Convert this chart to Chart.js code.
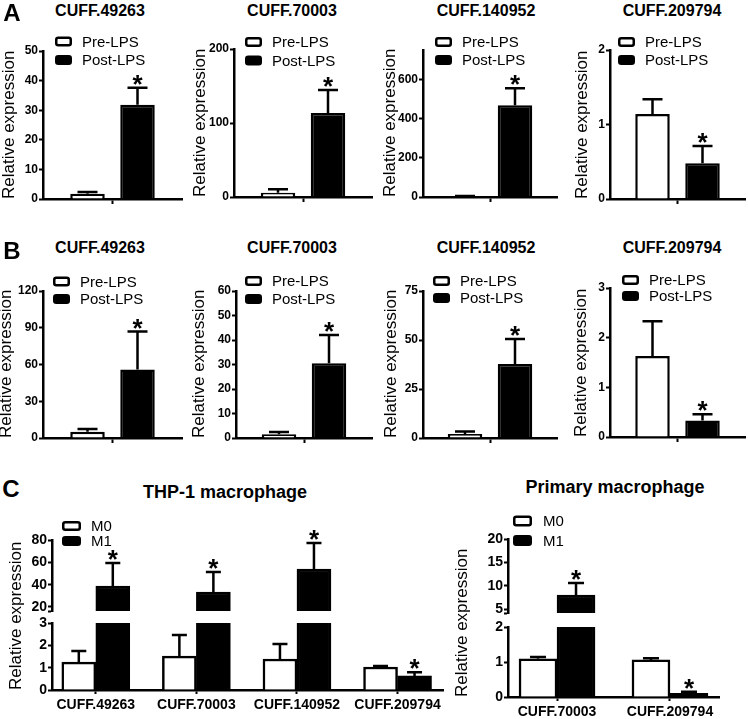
<!DOCTYPE html>
<html><head><meta charset="utf-8">
<script src="https://cdn.jsdelivr.net/npm/chart.js@4.4.1/dist/chart.umd.min.js"></script>
<style>
html,body{margin:0;padding:0;background:#fff;}
#fig{position:relative;width:748px;height:719px;overflow:hidden;background:#fff;font-family:Arial,"Liberation Sans",sans-serif;}
.t{position:absolute;width:300px;text-align:center;white-space:nowrap;font-weight:bold;color:#000;}
canvas{position:absolute;}
</style></head><body><div id="fig"></div>
<script>
// ================= DATA =================
const genesAB = ['CUFF.49263', 'CUFF.70003', 'CUFF.140952', 'CUFF.209794'];
const seriesAB = ['Pre-LPS', 'Post-LPS'];
// Panel A
const aPre = [1.8, 5.8, 3, 1.14];
const aPreErr = [0.6, 4.6, 1.5, 0.2];
const aPost = [31.8, 113.5, 468, 0.48];
const aPostErr = [5.8, 31, 87, 0.23];
const aMax = [50, 200, 750, 2];
const aTicks = [[0, 10, 20, 30, 40, 50], [0, 100, 200], [0, 200, 400, 600], [0, 1, 2]];
// Panel B
const bPre = [5.1, 1.5, 2, 1.63];
const bPreErr = [2.2, 0.9, 1.3, 0.7];
const bPost = [56, 30.5, 37.7, 0.33];
const bPostErr = [31, 11.5, 12.8, 0.13];
const bMax = [120, 60, 75, 3];
const bTicks = [[0, 30, 60, 90, 120], [0, 10, 20, 30, 40, 50, 60], [0, 25, 50, 75], [0, 1, 2, 3]];
const abPreSig = [0, 0, 0, 0];
const abPostSig = [1, 1, 1, 1];
// Panel C
const seriesC = ['M0', 'M1'];
const thpTitle = 'THP-1 macrophage';
const thpGenes = ['CUFF.49263', 'CUFF.70003', 'CUFF.140952', 'CUFF.209794'];
const thpM0 = [1.25, 1.52, 1.39, 1.03];
const thpM0Err = [0.5, 0.94, 0.67, 0.04];
const thpM1 = [38.8, 33.4, 54, 0.63];
const thpM1Err = [20.6, 17.9, 23.3, 0.17];
const thpM0Sig = [0, 0, 0, 0];
const thpM1Sig = [1, 1, 1, 1];
const thpLowTicks = [0, 1, 2, 3];
const thpHighTicks = [20, 40, 60, 80];
const thpBreakMin = 16.4;
const priTitle = 'Primary macrophage';
const priGenes = ['CUFF.70003', 'CUFF.209794'];
const priM0 = [1.09, 1.06];
const priM0Err = [0.05, 0.05];
const priM1 = [8.0, 0.105];
const priM1Err = [2.6, 0.045];
const priM0Sig = [0, 0];
const priM1Sig = [1, 1];
const priLowTicks = [0, 1, 2];
const priHighTicks = [5, 10, 15, 20];
const priBreakMin = 4.15;
const yTitleText = 'Relative expression';

// ================= STYLE / LAYOUT =================
const FONT = 'Arial, "Liberation Sans", sans-serif';
Chart.defaults.font.family = FONT;
Chart.defaults.color = '#000';
const TITLE_FS = 17, STAR_FS = 26;
const fig = document.getElementById('fig');

const errBars = {
  id: 'errBars',
  afterDatasetsDraw(chart, args, o) {
    const {ctx, chartArea: ca} = chart;
    const ys = chart.scales.y;
    const cap = o.cap || 20;
    chart.data.datasets.forEach((ds, di) => {
      const meta = chart.getDatasetMeta(di);
      meta.data.forEach((bar, i) => {
        const v = ds.data[i], e = ds.err ? ds.err[i] : 0;
        const yv = ys.getPixelForValue(v), yt = ys.getPixelForValue(v + e);
        ctx.save();
        ctx.beginPath(); ctx.rect(ca.left, ca.top, ca.right - ca.left, ca.bottom - ca.top); ctx.clip();
        ctx.strokeStyle = '#000'; ctx.lineWidth = 2.5;
        ctx.beginPath();
        ctx.moveTo(bar.x, yv); ctx.lineTo(bar.x, yt);
        ctx.moveTo(bar.x - cap / 2, yt); ctx.lineTo(bar.x + cap / 2, yt);
        ctx.stroke();
        ctx.restore();
        if (ds.sig && ds.sig[i] && yt >= ca.top - 1 && yt <= ca.bottom) {
          ctx.save();
          ctx.fillStyle = '#000';
          ctx.font = 'bold ' + STAR_FS + 'px ' + FONT;
          ctx.textAlign = 'center'; ctx.textBaseline = 'alphabetic';
          ctx.fillText('*', bar.x, yt - 5 + 0.39 * STAR_FS);
          ctx.restore();
        }
      });
    });
  }
};
const boxLegend = {
  id: 'boxLegend',
  afterDraw(chart, args, o) {
    if (!o || !o.show) return;
    const {ctx, chartArea: ca} = chart;
    ctx.save();
    chart.data.datasets.forEach((ds, i) => {
      const x = ca.left + o.dx, cy = ca.top + o.dy + i * o.gap;
      const w = o.w, h = o.h;
      ctx.fillStyle = ds.backgroundColor; ctx.strokeStyle = '#000'; ctx.lineWidth = 2.5;
      ctx.beginPath();
      if (ctx.roundRect) ctx.roundRect(x + 1.25, cy - h / 2 + 1.25, w - 2.5, h - 2.5, 2);
      else ctx.rect(x + 1.25, cy - h / 2 + 1.25, w - 2.5, h - 2.5);
      ctx.fill(); ctx.stroke();
      ctx.fillStyle = '#000'; ctx.font = '15px ' + FONT;
      ctx.textAlign = 'left'; ctx.textBaseline = 'middle';
      ctx.fillText(ds.label, x + o.tx, cy + 1);
    });
    ctx.restore();
  }
};
Chart.register(errBars, boxLegend);

function makeChart(s) {
  const padBottom = 10, padRight = 6;
  const cLeft = Math.floor(s.labelX - TITLE_FS / 2);
  const yW = s.ax - cLeft;
  const plotW = s.right - s.ax, plotH = s.bottom - s.top;
  const W = yW + plotW + padRight, H = s.padTop + plotH + s.xH + padBottom;
  const cv = document.createElement('canvas');
  cv.width = W; cv.height = H;
  Object.assign(cv.style, {left: cLeft + 'px', top: (s.top - s.padTop) + 'px', width: W + 'px', height: H + 'px'});
  fig.appendChild(cv);
  const allTicks = s.yMin ? [s.yMin].concat(s.yTicks) : s.yTicks;
  const datasets = s.series.map((name, k) => Object.assign({
    label: name, data: s.values[k], err: s.errs[k], sig: s.sigs[k],
    backgroundColor: k === 0 ? '#fff' : '#000', borderColor: '#000', borderWidth: 2.5,
    borderSkipped: 'start', clip: 0
  }, s.barThickness ? {barThickness: s.barThickness} : {categoryPercentage: 100 / plotW, barPercentage: 0.69}));
  const grid = {drawOnChartArea: false, drawTicks: true, tickLength: 4, tickWidth: 2, color: '#000'};
  const border = {display: true, color: '#000', width: 2.5};
  let xScale;
  if (s.cats) {
    xScale = {
      type: 'linear', min: s.xMin, max: s.xMax, offset: false, display: s.showX,
      afterBuildTicks: sc => { sc.ticks = s.cats.map((_, i) => ({value: i})); },
      afterFit: sc => { sc.height = s.xH; },
      ticks: {autoSkip: false, maxRotation: 0, minRotation: 0, padding: 3, color: '#000',
        font: {size: 14, weight: 'bold'}, callback: v => (s.cats[v] !== undefined ? s.cats[v] : '')},
      grid: Object.assign({}, grid, {offset: false}), border
    };
  } else {
    xScale = {
      type: 'category', offset: true,
      afterFit: sc => { sc.height = s.xH; },
      ticks: {display: false},
      grid: Object.assign({}, grid, {offset: false, tickLength: 5}), border
    };
  }
  new Chart(cv, {
    type: 'bar',
    data: {labels: s.cats ? s.cats.map((_, i) => i) : [''], datasets},
    options: {
      responsive: false, animation: false, devicePixelRatio: 1,
      layout: {padding: {top: s.padTop, right: padRight, bottom: padBottom, left: 0}},
      scales: {
        x: xScale,
        y: {
          min: s.yMin || 0, max: s.yMax,
          afterFit: sc => { sc.width = yW; },
          afterBuildTicks: sc => { sc.ticks = allTicks.map(v => ({value: v})); },
          ticks: {autoSkip: false, padding: 1, color: '#000', font: {size: s.tickFs, weight: 'bold'},
            callback: v => (s.yTicks.indexOf(v) >= 0 ? String(v) : '')},
          grid, border,
          title: {display: !!s.yTitle, text: yTitleText, align: 'start', padding: 0, color: '#000',
            font: {size: TITLE_FS, lineHeight: 1}}
        }
      },
      plugins: {
        legend: {display: false}, tooltip: {enabled: false},
        errBars: {cap: s.cap},
        boxLegend: s.legend ? Object.assign({show: true}, s.legend) : {show: false}
      }
    }
  });
}

function addText(txt, x, y, size) {
  const d = document.createElement('div');
  d.className = 't'; d.textContent = txt;
  d.style.left = (x - 150) + 'px';
  d.style.top = (y - size / 2) + 'px';
  d.style.fontSize = size + 'px';
  d.style.lineHeight = size + 'px';
  d.style.height = size + 'px';
  fig.appendChild(d);
}

// ---- Panels A and B ----
const abGeom = [
  {ax: 43, right: 182, titleX: 100},
  {ax: 234, right: 372, titleX: 292},
  {ax: 423, right: 557, titleX: 486},
  {ax: 610, right: 745, titleX: 672}
];
const aRows = {top: [51, 49, 50, 50], bottom: [199, 197, 197, 199], labelX: [10, 201, 391, 583],
  leg: [[12, -9.5, 18.5], [11, -7, 18.5], [12, -8, 18], [8, -8, 18]]};
const bRows = {top: [291, 291, 291, 288], bottom: [438, 438, 438, 437], labelX: [7, 200, 392, 582],
  axOff: [0, 2, 0, 0], leg: [[10, -9.5, 17.5], [9, -10, 18], [10, -10, 17], [12, -8, 16]]};

genesAB.forEach((g, i) => {
  const geo = abGeom[i];
  makeChart({
    ax: geo.ax, right: geo.right, top: aRows.top[i], bottom: aRows.bottom[i], labelX: aRows.labelX[i],
    padTop: 30, xH: 8, tickFs: 12, cap: 20, yTitle: true,
    yMax: aMax[i], yTicks: aTicks[i], series: seriesAB,
    values: [[aPre[i]], [aPost[i]]], errs: [[aPreErr[i]], [aPostErr[i]]], sigs: [[abPreSig[i]], [abPostSig[i]]],
    legend: {dx: aRows.leg[i][0], dy: aRows.leg[i][1], gap: aRows.leg[i][2], w: 17, h: 10, tx: 27}
  });
  makeChart({
    ax: geo.ax + bRows.axOff[i], right: geo.right, top: bRows.top[i], bottom: bRows.bottom[i], labelX: bRows.labelX[i],
    padTop: 30, xH: 8, tickFs: 12, cap: 20, yTitle: true,
    yMax: bMax[i], yTicks: bTicks[i], series: seriesAB,
    values: [[bPre[i]], [bPost[i]]], errs: [[bPreErr[i]], [bPostErr[i]]], sigs: [[abPreSig[i]], [abPostSig[i]]],
    legend: {dx: bRows.leg[i][0], dy: bRows.leg[i][1], gap: bRows.leg[i][2], w: 17, h: 10, tx: 27}
  });
  addText(g, geo.titleX, 11, 16);
  addText(g, geo.titleX, 248, 16);
});

// ---- Panel C : THP-1 (broken axis = two stacked charts) ----
const thpBase = {ax: 52, right: 443, labelX: 17, tickFs: 14, cap: 15, barThickness: 34,
  cats: thpGenes, xMin: -0.4355, xMax: 3.452, series: seriesC,
  values: [thpM0, thpM1], errs: [thpM0Err, thpM1Err], sigs: [thpM0Sig, thpM1Sig]};
makeChart(Object.assign({}, thpBase, {top: 623, bottom: 690, padTop: 95, xH: 24, showX: true, yTitle: true,
  yMax: thpLowTicks[thpLowTicks.length - 1], yTicks: thpLowTicks}));
makeChart(Object.assign({}, thpBase, {top: 540, bottom: 611, padTop: 30, xH: 0, showX: false, yTitle: false,
  yMin: thpBreakMin, yMax: thpHighTicks[thpHighTicks.length - 1], yTicks: thpHighTicks,
  legend: {dx: 10, dy: -14, gap: 15, w: 19, h: 10, tx: 29}}));

// ---- Panel C : Primary ----
const priBase = {ax: 508, right: 719, labelX: 463, tickFs: 14, cap: 16, barThickness: 38,
  cats: priGenes, xMin: -0.434, xMax: 1.434, series: seriesC,
  values: [priM0, priM1], errs: [priM0Err, priM1Err], sigs: [priM0Sig, priM1Sig]};
makeChart(Object.assign({}, priBase, {top: 627, bottom: 697, padTop: 95, xH: 24, showX: true, yTitle: true,
  yMax: priLowTicks[priLowTicks.length - 1], yTicks: priLowTicks}));
makeChart(Object.assign({}, priBase, {top: 539, bottom: 613, padTop: 30, xH: 0, showX: false, yTitle: false,
  yMin: priBreakMin, yMax: priHighTicks[priHighTicks.length - 1], yTicks: priHighTicks,
  legend: {dx: 5, dy: -18, gap: 19.5, w: 19, h: 11, tx: 30}}));

// ---- Panel letters and titles ----
addText('A', 12, 13, 24);
addText('B', 12, 251, 24);
addText('C', 11, 489, 24);
addText(thpTitle, 225, 492, 18);
addText(priTitle, 615, 487, 18);
</script></body></html>
